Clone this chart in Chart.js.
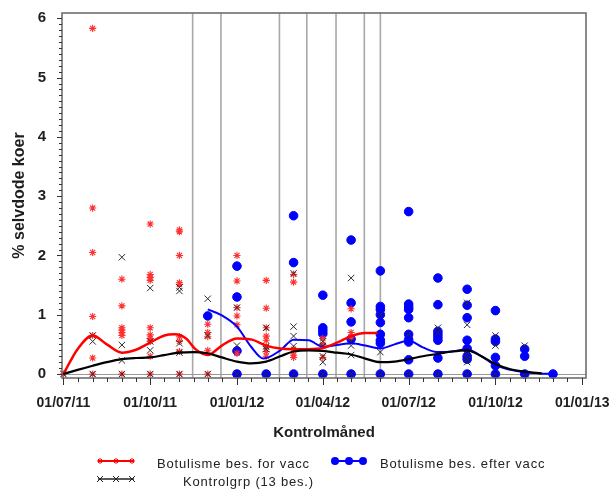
<!DOCTYPE html>
<html><head><meta charset="utf-8">
<script src="https://cdn.jsdelivr.net/npm/chart.js@4.4.1/dist/chart.umd.min.js"></script>
<style>
html,body{margin:0;padding:0;background:#fff;}
#wrap{position:relative;width:613px;height:490px;overflow:hidden;}
canvas{position:absolute;left:0;top:0;}
.lg{position:absolute;font-family:"Liberation Sans",Arial,sans-serif;font-size:13px;letter-spacing:0.8px;color:#222;white-space:nowrap;line-height:16px;}
svg.sym{position:absolute;overflow:visible;}
</style></head><body>
<div id="wrap">
<canvas id="c" width="613" height="490"></canvas>
<svg class="sym" style="left:96px;top:453px" width="42" height="16">
  <line x1="2" y1="8" x2="38" y2="8" stroke="#ff0000" stroke-width="2"/>
  <g stroke="#ff0000" stroke-width="1">
    <path d="M1,8h6M4,5v6M2,6l4,4M6,6l-4,4"/>
    <path d="M17,8h6M20,5v6M18,6l4,4M22,6l-4,4"/>
    <path d="M33,8h6M36,5v6M34,6l4,4M38,6l-4,4"/>
  </g>
</svg>
<div class="lg" style="left:157px;top:456px">Botulisme bes. for vacc</div>
<svg class="sym" style="left:331px;top:453px" width="40" height="16">
  <line x1="3" y1="8" x2="33" y2="8" stroke="#0000ff" stroke-width="2"/>
  <circle cx="4" cy="8" r="4" fill="#0000ff"/>
  <circle cx="18" cy="8" r="4" fill="#0000ff"/>
  <circle cx="32" cy="8" r="4" fill="#0000ff"/>
</svg>
<div class="lg" style="left:380px;top:456px">Botulisme bes. efter vacc</div>
<svg class="sym" style="left:96px;top:471px" width="42" height="16">
  <line x1="2" y1="8" x2="38" y2="8" stroke="#222" stroke-width="1.5"/>
  <g stroke="#222" stroke-width="1">
    <path d="M1,5l6,6M7,5l-6,6"/>
    <path d="M17,5l6,6M23,5l-6,6"/>
    <path d="M33,5l6,6M39,5l-6,6"/>
  </g>
</svg>
<div class="lg" style="left:183px;top:474px">Kontrolgrp (13 bes.)</div>
</div>
<script>
// x values are days since 01/07/2011
const monthDays = [0,31,62,92,123,153,184,215,244,275,305,336,366,397,428,458,489,519];
const redValues = [
  [0],
  [5.83,2.8,2.05,0.97,0.65,0.27,0],
  [1.6,1.15,0.78,0.74,0.7,0.65,0],
  [2.53,1.68,1.63,1.58,0.78,0.66,0.6,0.55,0.3,0],
  [2.43,2.4,2.0,1.54,1.51,0.63,0.55,0.38,0],
  [0.84,0.7,0.63,0.4,0],
  [2.0,1.57,1.12,0.98,0.83,0.35],
  [1.58,1.11,0.78,0.64,0.57,0.46,0.38,0.3],
  [1.68,1.55,0.42,0.32,0.28],
  [0.6,0.5,0.28],
  [1.1,0.7,0.62],
  [],[],[],[],[],[],[]
];
const blackValues = [
  [0],
  [0.65,0.55,0],
  [1.97,0.49,0.23,0],
  [1.45,0.55,0.4,0],
  [1.46,1.4,0.52,0.36,0],
  [1.27,0.65,0],
  [1.12,0.48,0],
  [0.78,0.47,0.42,0],
  [1.7,0.8,0.64,0.47,0],
  [0.55,0.47,0.3,0.2,0],
  [1.62,0.55,0.48,0.32,0],
  [1.0,0.37,0],
  [0.67,0],
  [0.78,0.7,0],
  [1.2,0.83,0.4,0.33,0.25,0.2,0],
  [0.65,0.48,0],
  [0.48,0],
  []
];
const blueValues = [
  [],[],[],[],[],
  [0.98],
  [1.82,1.3,0.39,0],
  [0],
  [2.67,1.88,0],
  [1.33,0.78,0.73,0.68,0],
  [2.26,1.2,0.88,0.59,0],
  [1.74,1.14,1.09,1.0,0.87,0.67,0.57,0.52,0],
  [2.74,1.18,1.13,1.09,0.95,0.67,0.58,0.54,0.24,0],
  [1.62,1.17,0.72,0.67,0.62,0.57,0.27,0],
  [1.43,1.16,0.95,0.57,0.43,0.3,0.25,0],
  [1.07,0.59,0.55,0.28,0.14,0],
  [0.42,0.3,0],
  [0]
];
// smoothed curves
const redCurveDays = [0,15,31,46,62,77,92,107,118,130,140,153,168,184,200,215,230,244,260,275,290,305,320,333];
const redCurve     = [0,0.42,0.65,0.5,0.36,0.41,0.53,0.65,0.67,0.6,0.42,0.32,0.48,0.6,0.58,0.48,0.43,0.42,0.42,0.44,0.53,0.64,0.69,0.69];
const blackCurveDays = [0,15,31,46,62,77,92,107,123,138,153,168,184,199,215,230,244,260,275,290,305,320,336,351,366,381,397,412,428,443,458,474,489,507];
const blackCurve     = [0,0.07,0.14,0.2,0.25,0.27,0.28,0.32,0.36,0.37,0.35,0.28,0.21,0.18,0.21,0.3,0.38,0.4,0.39,0.36,0.33,0.26,0.2,0.21,0.25,0.3,0.34,0.38,0.4,0.3,0.17,0.08,0.04,0.01];
const blueCurveDays = [153,168,184,199,212,230,244,260,275,290,305,320,336,351,366,381,397,412,428,443,458,474,489,505,519];
const blueCurve     = [1.09,0.99,0.8,0.46,0.26,0.4,0.58,0.57,0.46,0.49,0.52,0.48,0.43,0.5,0.56,0.45,0.37,0.38,0.42,0.3,0.15,0.07,0.03,0.01,0];
// vaccination reference dates
const vaccDays = [137,167,229,258,289,319,336];
// axis ticks
const xTickDays = [0,92,184,275,366,458,550];
const xTickLabels = ['01/07/11','01/10/11','01/01/12','01/04/12','01/07/12','01/10/12','01/01/13'];
const xMinorDays = [15,31,46,62,77,107,123,138,153,168,199,215,229,244,259,290,305,320,336,351,381,397,412,428,443,473,489,504,519,534];
const yTickValues = [0,1,2,3,4,5,6];
const yTickLabels = ['0','1','2','3','4','5','6'];

function pts(vals){
  const out=[];
  vals.forEach((arr,i)=>arr.forEach(v=>out.push({x:monthDays[i],y:v})));
  return out;
}
function curve(days,vals){ return days.map((d,i)=>({x:d,y:vals[i]})); }

const FONT = '"Liberation Sans", Arial, sans-serif';

const refPlugin = {
  id:'refs',
  beforeDatasetsDraw(chart){
    const {ctx, chartArea:a, scales:{x,y}} = chart;
    ctx.save();
    ctx.strokeStyle='#a8a8a8'; ctx.lineWidth=1.6;
    vaccDays.forEach(d=>{
      const px=x.getPixelForValue(d);
      ctx.beginPath(); ctx.moveTo(px,a.top); ctx.lineTo(px,a.bottom); ctx.stroke();
    });
    const py=Math.round(y.getPixelForValue(0))+0.5;
    ctx.strokeStyle='#9a9a9a'; ctx.lineWidth=1;
    ctx.beginPath(); ctx.moveTo(a.left,py); ctx.lineTo(a.right,py); ctx.stroke();
    ctx.restore();
  },
  afterDraw(chart){
    const {ctx, chartArea:a, scales:{x,y}} = chart;
    ctx.save();
    ctx.strokeStyle='#6e6e6e'; ctx.lineWidth=1.6;
    ctx.strokeRect(a.left,a.top,a.right-a.left,a.bottom-a.top);
    ctx.strokeStyle='#333'; ctx.lineWidth=1;
    xTickDays.forEach(d=>{const px=Math.round(x.getPixelForValue(d))+0.5;
      ctx.beginPath(); ctx.moveTo(px,a.bottom); ctx.lineTo(px,a.bottom+7); ctx.stroke();});
    xMinorDays.forEach(d=>{const px=Math.round(x.getPixelForValue(d))+0.5;
      ctx.beginPath(); ctx.moveTo(px,a.bottom); ctx.lineTo(px,a.bottom+4); ctx.stroke();});
    for(let i=0;i<=60;i++){
      const py=Math.round(y.getPixelForValue(i/10))+0.5;
      const len = (i%10===0)?5:3;
      ctx.beginPath(); ctx.moveTo(a.left,py); ctx.lineTo(a.left-len,py); ctx.stroke();
    }
    ctx.restore();
  }
};

new Chart(document.getElementById('c'),{
  type:'scatter',
  data:{datasets:[
    {label:'Kontrolgrp (13 bes.)', type:'line', data:curve(blackCurveDays,blackCurve), borderColor:'#000', borderWidth:2.2, pointRadius:0, cubicInterpolationMode:'monotone', fill:false, order:1, clip:false},
    {label:'Botulisme bes. for vacc', type:'line', data:curve(redCurveDays,redCurve), borderColor:'#ff0000', borderWidth:2.5, pointRadius:0, cubicInterpolationMode:'monotone', fill:false, order:2, clip:false},
    {label:'Botulisme bes. efter vacc', type:'line', data:curve(blueCurveDays,blueCurve), borderColor:'#0000ff', borderWidth:2, pointRadius:0, cubicInterpolationMode:'monotone', fill:false, order:3, clip:false},
    {label:'Kontrolgrp pts', data:pts(blackValues), pointStyle:'crossRot', pointRadius:4.5, borderColor:'#2a2a2a', borderWidth:1, backgroundColor:'transparent', order:4, clip:false},
    {label:'for vacc pts', data:pts(redValues), pointStyle:'star', pointRadius:3.6, borderColor:'#ff3030', borderWidth:1.1, backgroundColor:'transparent', order:5, clip:false},
    {label:'efter vacc pts', data:pts(blueValues), pointStyle:'circle', pointRadius:4.3, borderColor:'#0000ff', backgroundColor:'#0000ff', borderWidth:1, order:6, clip:false}
  ]},
  plugins:[refPlugin],
  options:{
    responsive:false, animation:false, devicePixelRatio:1,
    layout:{padding:{left:0,top:13,right:27,bottom:0}},
    plugins:{legend:{display:false}, tooltip:{enabled:false}},
    scales:{
      x:{type:'linear', min:-1.5, max:554,
        afterFit(s){ s.height=112; s.paddingLeft=0; s.paddingRight=0; },
        afterBuildTicks(s){ s.ticks = xTickDays.map(v=>({value:v})); },
        grid:{display:false}, border:{display:false},
        ticks:{autoSkip:false, maxRotation:0, padding:9, color:'#1e1e1e', font:{family:FONT,size:14,weight:'bold'},
          callback:(v,i)=>xTickLabels[i]},
        title:{display:true, text:'Kontrolmåned', color:'#1e1e1e', font:{family:FONT,size:15,weight:'bold'}, padding:{top:0,bottom:48}}
      },
      y:{type:'linear', min:-0.067, max:6.09,
        afterFit(s){ s.width=62; s.paddingTop=0; s.paddingBottom=0; },
        afterBuildTicks(s){ s.ticks = yTickValues.map(v=>({value:v})); },
        grid:{display:false}, border:{display:false},
        ticks:{autoSkip:false, padding:8, color:'#1e1e1e', font:{family:FONT,size:15,weight:'bold'},
          callback:(v,i)=>yTickLabels[i]},
        title:{display:true, text:'% selvdode koer', color:'#1e1e1e', font:{family:FONT,size:16,weight:'bold'}, padding:{top:10,bottom:0}}
      }
    }
  }
});
</script>
</body></html>
